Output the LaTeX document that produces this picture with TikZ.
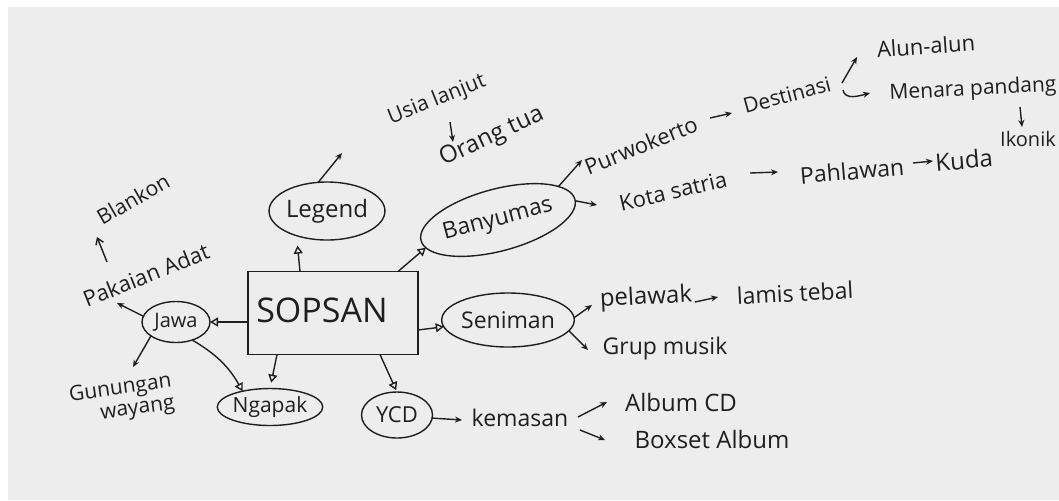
\documentclass[tikz,border=0pt]{standalone}
\usepackage{fontspec}
\setmainfont{Open Sans}
\usetikzlibrary{arrows.meta,shapes.geometric}

\definecolor{ink}{HTML}{1F1F1F}
\definecolor{paper}{HTML}{EDEDED}

\begin{document}
\begin{tikzpicture}[x=0.5pt, y=-0.5pt, line width=0.7pt, ink]

\tikzset{%
    hand/.style={font=\fontsize{#1}{#1}\selectfont, inner sep=0.5pt},
    hand/.default=11,
    idea/.style 2 args={draw, ellipse, minimum width=#1, minimum height=#2,
        inner sep=0pt, outer sep=0pt, font=\fontsize{11.5}{11.5}\selectfont},
    main box/.style={draw, rectangle, minimum width=85pt, minimum height=41.5pt,
        inner sep=0pt, outer sep=0pt},
    open arrow/.style={-{Triangle[open, length=4pt, width=4.5pt]}},
    small arrow/.style={-{Stealth[length=3.5pt, width=3pt]}},
    barb arrow/.style={-{Straight Barb[length=3pt, width=4pt]}}
}

% paper
\fill[paper] (0,0) rectangle (1059,500);
\fill[white] (0,0) rectangle (1059,7);
\fill[white] (0,0) rectangle (8,500);
\useasboundingbox (0,0) rectangle (1059,500);

\node[main box] (sopsan) at (333,313) {};
\node[hand=17] (sopsan text) at (322,310) {SOPSAN};

\node[idea={54pt}{29pt}, font=\fontsize{12}{12}\selectfont] (legend) at (327,211) {Legend};
\node[idea={72.5pt}{31pt}, rotate=15] (banyumas) at (498,220) {Banyumas};
\node[idea={60pt}{27pt}] (seniman) at (508,320) {Seniman};
\node[idea={34pt}{20.5pt}, font=\fontsize{10}{10}\selectfont] (jawa) at (176,322) {Jawa};
\node[idea={47.5pt}{18.5pt}, font=\fontsize{10.5}{10.5}\selectfont] (ngapak) at (270,407) {Ngapak};
\node[idea={35.5pt}{23pt}, font=\fontsize{11}{11}\selectfont] (ycd) at (397,415) {YCD};

% left
\node[hand=10.5, rotate=30] (blankon) at (133,199) {Blankon};
\node[hand=11, rotate=22] (pakaian) at (146,275) {Pakaian Adat};
\node[hand, rotate=8, align=right, font=\fontsize{10.5}{11}\selectfont] (gunungan) at (122,400) {Gunungan\\wayang};

% top
\node[hand=10.5, rotate=22] (usia) at (437,100) {Usia lanjut};
\node[hand=12, rotate=25] (orang) at (492,137) {Orang tua};
\node[hand=11, rotate=22] (purwokerto) at (641,145) {Purwokerto};
\node[hand=10.5, rotate=15] (destinasi) at (787,95) {Destinasi};
\node[hand=11, rotate=4] (alun) at (926,46) {Alun-alun};
\node[hand=10.5, rotate=3] (menara) at (973,90) {Menara pandang};
\node[hand=10] (ikonik) at (1028,139) {Ikonik};
\node[hand=11, rotate=13] (kota) at (673,191) {Kota satria};
\node[hand=11.5, rotate=5] (pahlawan) at (852,171) {Pahlawan};
\node[hand=12, rotate=5] (kuda) at (964,160) {Kuda};

% right
\node[hand=12, rotate=3] (pelawak) at (646,298) {pelawak};
\node[hand=11.5, rotate=3] (lamis) at (795,293) {lamis tebal};
\node[hand=11.5] (grup) at (665,349) {Grup musik};
\node[hand=11.5] (kemasan) at (520,418) {kemasan};
\node[hand=12] (albumcd) at (681,402) {Album CD};
\node[hand=12] (boxset) at (712,439) {Boxset Album};

% from SOPSAN
\draw[open arrow, shorten >=5pt] ([shift={(-33,0)}]sopsan.north) -- (legend.219);
\draw[open arrow] ([shift={(-20,0)}]sopsan.north east) -- (banyumas.186);
\draw[open arrow] ([shift={(0,9)}]sopsan.west) -- (jawa.east);
\draw[open arrow, shorten >=3pt] ([shift={(-56,0)}]sopsan.south) -- (ngapak.north);
\draw[open arrow, shorten >=1pt] ([shift={(47,0)}]sopsan.south) -- (ycd.north);
\draw[open arrow] ([shift={(0,17)}]sopsan.east) -- (seniman.186);

% branches
\draw[small arrow] (legend.107) -- ([shift={(-95,53)}]usia.center);
\draw[small arrow] ([shift={(13,22)}]usia.center) -- ([shift={(-39,5)}]orang.center);
\draw[small arrow] (banyumas.14) -- ([shift={(-59,15)}]purwokerto.center);
\draw[small arrow] (banyumas.-1) -- ([shift={(-76,14)}]kota.center);
\draw[small arrow] ([shift={(69,-27)}]purwokerto.center) -- ([shift={(-55,18)}]destinasi.center);
\draw[small arrow] ([shift={(55,-12)}]destinasi.center) -- ([shift={(-69,11)}]alun.center);
\draw[small arrow] ([shift={(56,-5)}]destinasi.center) to[out=-80, in=195] ([shift={(-103,3)}]menara.center);
\draw[small arrow] ([shift={(47,17)}]menara.center) -- ([shift={(-6,-12)}]ikonik.center);
\draw[small arrow] ([shift={(77,-18)}]kota.center) -- ([shift={(-74,1)}]pahlawan.center);
\draw[small arrow] ([shift={(61,-8)}]pahlawan.center) -- ([shift={(-31,1)}]kuda.center);

\draw[small arrow] (jawa.170) -- ([shift={(-29,28)}]pakaian.center);
\draw[barb arrow] ([shift={(-39,-13)}]pakaian.center) -- ([shift={(-36,38)}]blankon.center);
\draw[small arrow] (jawa.209) -- ([shift={(11,-33)}]gunungan.center);
\draw[open arrow] (jawa.-48) to[bend left=15] (ngapak.150);

\draw[small arrow] (seniman.2) -- ([shift={(-54,7)}]pelawak.center);
\draw[small arrow] ([shift={(49,4)}]pelawak.center) -- ([shift={(-77,4)}]lamis.center);
\draw[small arrow] (seniman.-10) -- ([shift={(-77,1)}]grup.center);
\draw[small arrow] (ycd.-5) -- ([shift={(-58,2)}]kemasan.center);
\draw[small arrow] ([shift={(58,-1)}]kemasan.center) -- ([shift={(-74,0)}]albumcd.center);
\draw[small arrow] ([shift={(60,12)}]kemasan.center) -- ([shift={(-107,1)}]boxset.center);

\end{tikzpicture}
\end{document}
